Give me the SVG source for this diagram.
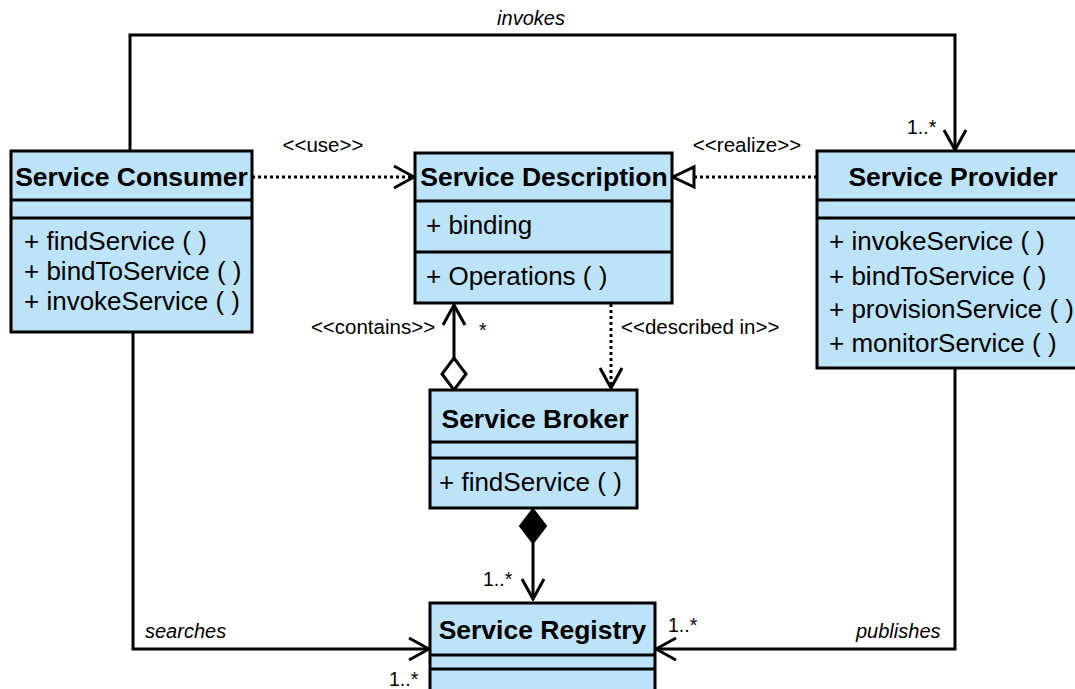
<svg xmlns="http://www.w3.org/2000/svg" width="1075" height="689" viewBox="0 0 1075 689">
<defs>
<style>
.box{fill:#bde3f8;stroke:#000;stroke-width:3}
.div{stroke:#000;stroke-width:3}
.title{font-family:"Liberation Sans",Arial,sans-serif;font-weight:bold;font-size:26.5px;fill:#000;text-anchor:middle}
.mem{font-family:"Liberation Sans",Arial,sans-serif;font-size:26px;fill:#000}
.lbl{font-family:"Liberation Sans",Arial,sans-serif;font-size:20.5px;fill:#000}
.it{font-family:"Liberation Sans",Arial,sans-serif;font-size:20px;font-style:italic;fill:#000}
.mult{font-family:"Liberation Sans",Arial,sans-serif;font-size:19.5px;fill:#000}
.line{fill:none;stroke:#000;stroke-width:3}
.dot{fill:none;stroke:#000;stroke-width:3;stroke-dasharray:3 3}
</style>
<marker id="open" viewBox="-22 -13 24 26" refX="0" refY="0" markerWidth="24" markerHeight="26" markerUnits="userSpaceOnUse" orient="auto">
<path d="M-20,-11 L0,0 L-20,11" fill="none" stroke="#000" stroke-width="3"/>
</marker>
<marker id="tri" viewBox="-24 -13 26 26" refX="0" refY="0" markerWidth="26" markerHeight="26" markerUnits="userSpaceOnUse" orient="auto">
<path d="M-21,-10 L0,0 L-21,10 Z" fill="#fff" stroke="#000" stroke-width="3"/>
</marker>
</defs>

<g id="connectors">
<path class="line" d="M130,151 V35 H955 V150" marker-end="url(#open)"/>
<path class="dot" d="M252,177 H414" marker-end="url(#open)"/>
<path class="dot" d="M817,177 H673" marker-end="url(#tri)"/>
<path class="line" d="M454,358 V305" marker-end="url(#open)"/>
<path d="M454,390 L466,374 L454,358 L442,374 Z" fill="#fff" stroke="#000" stroke-width="3"/>
<path class="dot" d="M611,304 V388" marker-end="url(#open)"/>
<path d="M533,509 L546,526 L533,543 L520,526 Z" fill="#000" stroke="#000" stroke-width="2"/>
<path class="line" d="M533,543 V599" marker-end="url(#open)"/>
<path class="line" d="M133,332 V649 H429" marker-end="url(#open)"/>
<path class="line" d="M955,368 V649 H656" marker-end="url(#open)"/>
</g>

<g id="labels">
<text class="it" x="531" y="25" text-anchor="middle">invokes</text>
<text class="mult" x="907" y="134">1..*</text>
<text class="lbl" x="323" y="152" text-anchor="middle">&lt;&lt;use&gt;&gt;</text>
<text class="lbl" x="747" y="152" text-anchor="middle">&lt;&lt;realize&gt;&gt;</text>
<text class="lbl" x="373" y="334" text-anchor="middle">&lt;&lt;contains&gt;&gt;</text>
<text class="mult" x="479" y="337">*</text>
<text class="lbl" x="621" y="334">&lt;&lt;described in&gt;&gt;</text>
<text class="mult" x="483" y="586">1..*</text>
<text class="it" x="145" y="638">searches</text>
<text class="mult" x="389" y="686">1..*</text>
<text class="mult" x="668" y="632">1..*</text>
<text class="it" x="856" y="638">publishes</text>
</g>

<g id="service-consumer">
<rect class="box" x="11" y="151" width="241" height="181"/>
<line class="div" x1="11" y1="200" x2="252" y2="200"/>
<line class="div" x1="11" y1="218" x2="252" y2="218"/>
<text class="title" x="131.5" y="186">Service Consumer</text>
<text class="mem" x="24" y="250">+ findService ( )</text>
<text class="mem" x="24" y="280">+ bindToService ( )</text>
<text class="mem" x="24" y="310">+ invokeService ( )</text>
</g>

<g id="service-description">
<rect class="box" x="415" y="153" width="257" height="150"/>
<line class="div" x1="415" y1="201" x2="672" y2="201"/>
<line class="div" x1="415" y1="252" x2="672" y2="252"/>
<text class="title" x="544" y="186">Service Description</text>
<text class="mem" x="426" y="234">+ binding</text>
<text class="mem" x="426" y="285">+ Operations ( )</text>
</g>

<g id="service-provider">
<rect class="box" x="817" y="151" width="273" height="217"/>
<line class="div" x1="817" y1="200" x2="1090" y2="200"/>
<line class="div" x1="817" y1="218" x2="1090" y2="218"/>
<text class="title" x="953" y="186">Service Provider</text>
<text class="mem" x="829" y="250">+ invokeService ( )</text>
<text class="mem" x="829" y="285">+ bindToService ( )</text>
<text class="mem" x="829" y="318">+ provisionService ( )</text>
<text class="mem" x="829" y="352">+ monitorService ( )</text>
</g>

<g id="service-broker">
<rect class="box" x="430" y="390" width="207" height="118"/>
<line class="div" x1="430" y1="442" x2="637" y2="442"/>
<line class="div" x1="430" y1="458" x2="637" y2="458"/>
<text class="title" x="535" y="428">Service Broker</text>
<text class="mem" x="439" y="491">+ findService ( )</text>
</g>

<g id="service-registry">
<rect class="box" x="430" y="603" width="225" height="100"/>
<line class="div" x1="430" y1="655" x2="655" y2="655"/>
<line class="div" x1="430" y1="669" x2="655" y2="669"/>
<text class="title" x="542.5" y="639">Service Registry</text>
</g>
</svg>
